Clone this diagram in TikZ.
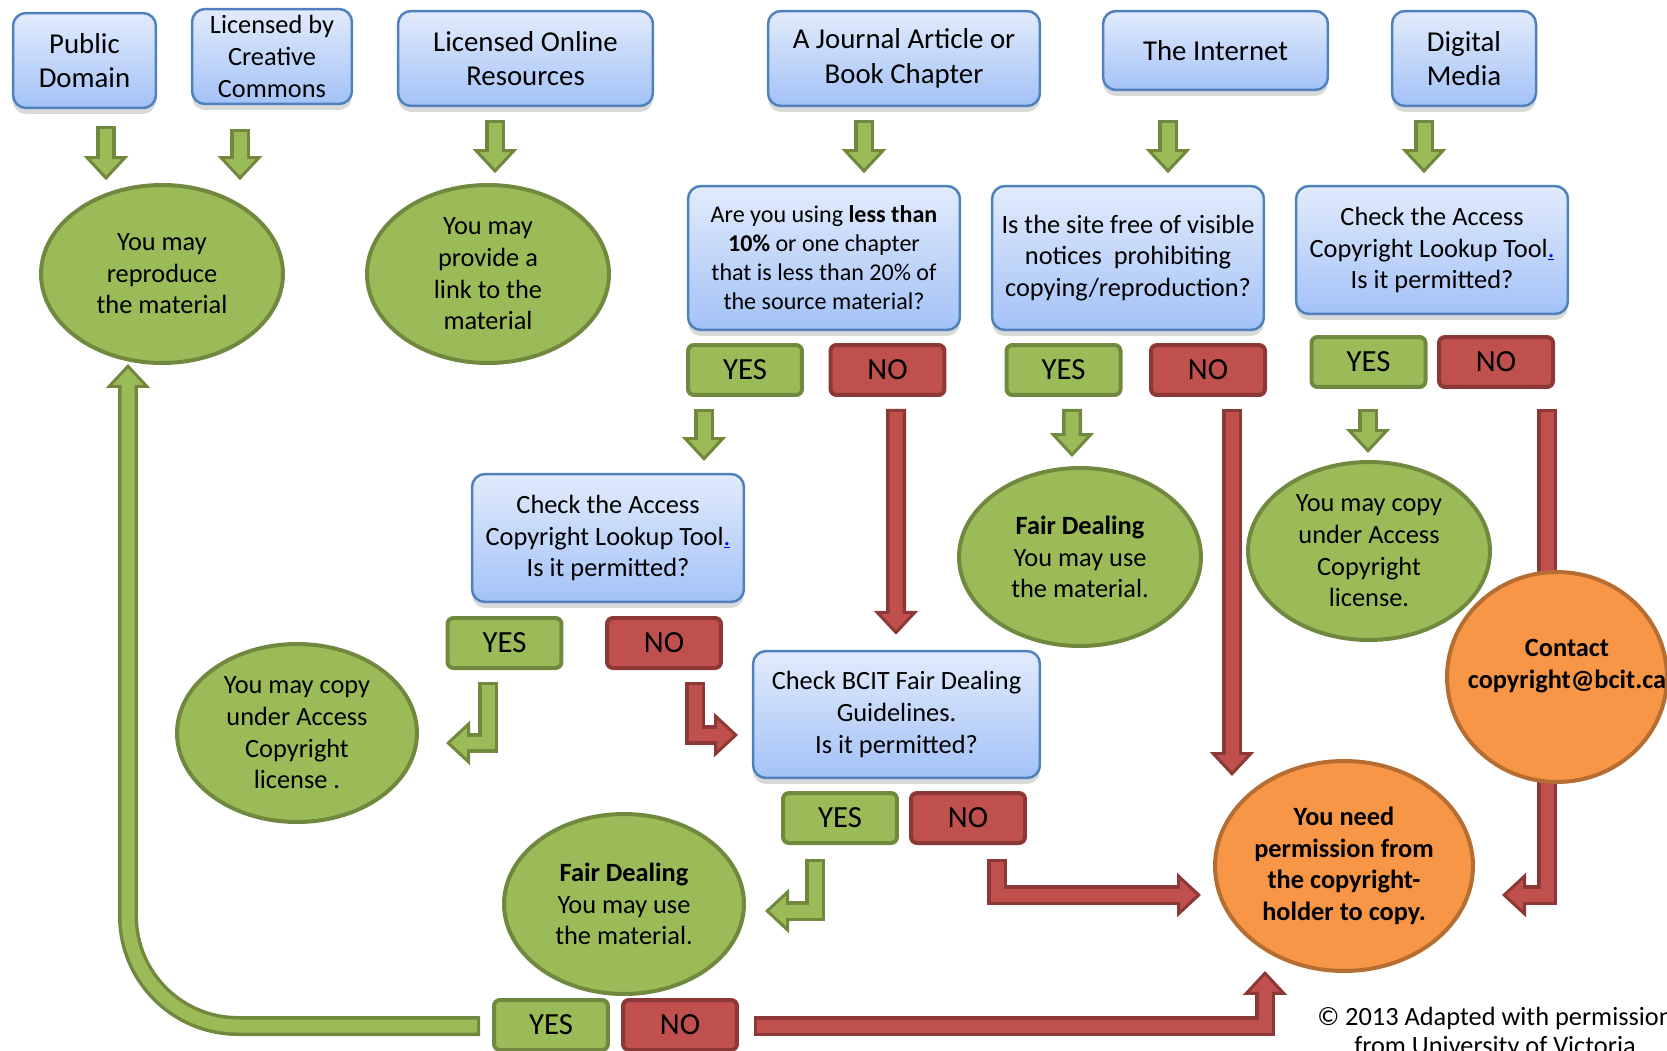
\documentclass[tikz,border=0pt]{standalone}
\usepackage{fontspec}
\setmainfont{Carlito}
\usetikzlibrary{arrows.meta,shapes.geometric,calc,shadows,backgrounds}

\definecolor{bluebd}{HTML}{4F81BD}
\definecolor{bluetop}{HTML}{E2EBFC}
\definecolor{bluebot}{HTML}{A3C2F7}
\definecolor{greenfill}{HTML}{9BBB59}
\definecolor{greenbd}{HTML}{71893F}
\definecolor{redfill}{HTML}{C0504D}
\definecolor{redbd}{HTML}{8C3836}
\definecolor{orangefill}{HTML}{F79646}
\definecolor{orangebd}{HTML}{B66D31}

\newcommand{\greenarrow}[1]{\draw[gshaft] #1; \draw[gcore] #1;}
\newcommand{\redarrow}[1]{\draw[rshaft] #1; \draw[rcore] #1;}
\newcommand{\dotlink}{\textcolor{blue}{\underline{.}}}

\begin{document}
\begin{tikzpicture}[x=0.02cm, y=-0.02cm,
  qbox/.style={draw=bluebd, line width=0.05cm, rounded corners=0.26cm, top color=bluetop, bottom color=bluebot, align=center, inner sep=0pt, font=\fontsize{15}{18}\selectfont, drop shadow={shadow xshift=0cm, shadow yshift=-0.12cm, fill=black, opacity=0.15}},
  topbox/.style={qbox, font=\fontsize{16.4}{19.8}\selectfont},
  okdisc/.style={ellipse, draw=greenbd, fill=greenfill, line width=0.08cm, inner sep=0pt, align=center, font=\fontsize{15}{18}\selectfont},
  stopdisc/.style={ellipse, draw=orangebd, fill=orangefill, line width=0.08cm, inner sep=0pt, align=center, font=\bfseries\fontsize{15}{18}\selectfont},
  yesbox/.style={draw=greenbd, fill=greenfill, line width=0.08cm, rounded corners=0.12cm, minimum width=2.28cm, minimum height=1cm, inner sep=0pt, font=\fontsize{17.5}{21}\selectfont},
  nobox/.style={yesbox, draw=redbd, fill=redfill},
  gshaft/.style={draw=greenbd, line width=0.4cm, line join=miter, -{Triangle[width=0.88cm,length=0.48cm,fill=greenfill,line width=0.06cm]}},
  gcore/.style={draw=greenfill, line width=0.26cm, line join=miter, shorten <=0.06cm, shorten >=0.38cm},
  rshaft/.style={gshaft, draw=redbd, -{Triangle[width=0.88cm,length=0.48cm,fill=redfill,line width=0.06cm]}},
  rcore/.style={gcore, draw=redfill}]

\useasboundingbox (0,0) rectangle (1667,1051);

\node[topbox, minimum width=2.86cm, minimum height=1.9cm] (pd) at (84.5,60.5) {Public\\Domain};

\node[topbox, font=\fontsize{15}{18}\selectfont, minimum width=3.2cm, minimum height=1.9cm] (cc) at (272,56.5) {Licensed by\\Creative\\Commons};

\node[topbox, minimum width=5.1cm, minimum height=1.9cm] (lor) at (525.5,58.5) {Licensed Online\\Resources};

\node[topbox, minimum width=5.44cm, minimum height=1.9cm] (jour) at (904,58.5) {A Journal Article or\\Book Chapter};

\node[topbox, minimum width=4.5cm, minimum height=1.58cm] (inet) at (1215.5,50.5) {The Internet};

\node[topbox, minimum width=2.88cm, minimum height=1.9cm] (dig) at (1464,58.5) {Digital\\Media};

\node[okdisc, minimum width=4.84cm, minimum height=3.56cm] (repro) at (162,274) {You may\\reproduce\\the material};

\node[okdisc, minimum width=4.84cm, minimum height=3.56cm] (link) at (488,274) {You may\\provide a\\link to the\\material};

\node[qbox, font=\fontsize{13.7}{16.5}\selectfont, minimum width=5.44cm, minimum height=2.88cm] (less) at (824,258) {Are you using \textbf{less than}\\\textbf{10\%} or one chapter\\that is less than 20\% of\\the source material?};

\node[qbox, minimum width=5.44cm, minimum height=2.88cm] (site) at (1128,258) {Is the site free of visible\\notices\ \ prohibiting\\copying/reproduction?};

\node[qbox, minimum width=5.44cm, minimum height=2.56cm] (lookupa) at (1432,250) {Check the Access\\Copyright Lookup Tool\dotlink\\Is it permitted?};

\node[yesbox] (yesless) at (745,370) {YES};

\node[nobox] (noless) at (887.5,370) {NO};

\node[yesbox] (yessite) at (1063.5,370) {YES};

\node[nobox] (nosite) at (1208,370) {NO};

\node[yesbox] (yesdig) at (1368.5,362) {YES};

\node[nobox] (nodig) at (1496,362) {NO};

\node[qbox, minimum width=5.44cm, minimum height=2.56cm] (lookupb) at (608,538) {Check the Access\\Copyright Lookup Tool\dotlink\\Is it permitted?};

\node[okdisc, minimum width=4.84cm, minimum height=3.56cm] (fairA) at (1080,557) {\textbf{Fair Dealing}\\You may use\\the material.};

\node[okdisc, minimum width=4.84cm, minimum height=3.56cm] (copyB) at (1369,551) {You may copy\\under Access\\Copyright\\license.};

\node[yesbox] (yescheck) at (504.5,643) {YES};

\node[nobox] (nocheck) at (664,643) {NO};

\node[okdisc, minimum width=4.8cm, minimum height=3.56cm] (copyA) at (297,733) {You may copy\\under Access\\Copyright\\license .};

\node[qbox, minimum width=5.74cm, minimum height=2.54cm] (bcit) at (896.5,714.5) {Check BCIT Fair Dealing\\Guidelines.\\Is it permitted?};

\node[yesbox] (yesbcit) at (840,818) {YES};

\node[nobox] (nobcit) at (968,818) {NO};

\node[okdisc, minimum width=4.8cm, minimum height=3.6cm] (fairB) at (624,904) {\textbf{Fair Dealing}\\You may use\\the material.};

\node[stopdisc, minimum width=4.4cm, minimum height=4.2cm] (contact) at (1557,677) {};

\node[font=\bfseries\fontsize{15}{18}\selectfont, align=center] (contacttxt) at (1567,666) {Contact\\copyright@bcit.ca};

\node[stopdisc, inner xsep=-0.3cm, minimum width=5.16cm, minimum height=4.2cm] (need) at (1344,866) {You need\\permission from\\the copyright-\\holder to copy.};

\node[yesbox] (yesfd) at (551,1025) {YES};

\node[nobox] (nofd) at (680,1025) {NO};

\node[font=\fontsize{15}{16.5}\selectfont, align=center] (credit) at (1495,1033) {© 2013 Adapted with permission\\from University of Victoria};

\begin{scope}[on background layer]

\greenarrow{($(pd.south)+(21.5,17)$) -- ++(0,54)}

\greenarrow{($(cc.south)+(-32,24)$) -- ++(0,51)}

\greenarrow{($(lor.south)+(-30.5,13)$) -- ++(0,53)}

\greenarrow{($(jour.south)+(-40,13)$) -- ++(0,53)}

\greenarrow{($(inet.south)+(-47.5,29)$) -- ++(0,53)}

\greenarrow{($(dig.south)+(-40,13)$) -- ++(0,53)}

\greenarrow{($(yesless.south)+(-41,12)$) -- ++(0,52)}

\redarrow{($(noless.south)+(8.5,12)$) -- ($(bcit.north)+(-0.5,-15)$)}

\greenarrow{($(yessite.south)+(8.5,12)$) -- ($(fairA.north)+(-8,-9)$)}

\redarrow{($(nosite.south)+(24,12)$) -- ++(0,367)}

\greenarrow{($(yesdig.south)+(-0.5,20)$) -- ++(0,44)}

\redarrow{($(nodig.south)+(51,20)$) -- ++(0,486) -- ++(-45,0)}

\greenarrow{($(yescheck.south)+(-16.5,12)$) -- ++(0,61) -- ++(-42,0)}

\redarrow{($(nocheck.south)+(31,12)$) -- ++(0,53) -- ++(43,0)}

\greenarrow{($(yesbcit.south)+(-25,14)$) -- ++(0,52) -- ++(-50,0)}

\redarrow{($(nobcit.south)+(29,14)$) -- ++(0,36) -- ++(204,0)}

\greenarrow{[rounded corners=2.2cm] ($(yesfd.west)+(-12,1)$) -| ($(repro.south)+(-34,-1)$)}

\redarrow{($(nofd.east)+(15,1)$) -| ($(need.south)+(-79,-2)$)}

\end{scope}

\end{tikzpicture}
\end{document}
